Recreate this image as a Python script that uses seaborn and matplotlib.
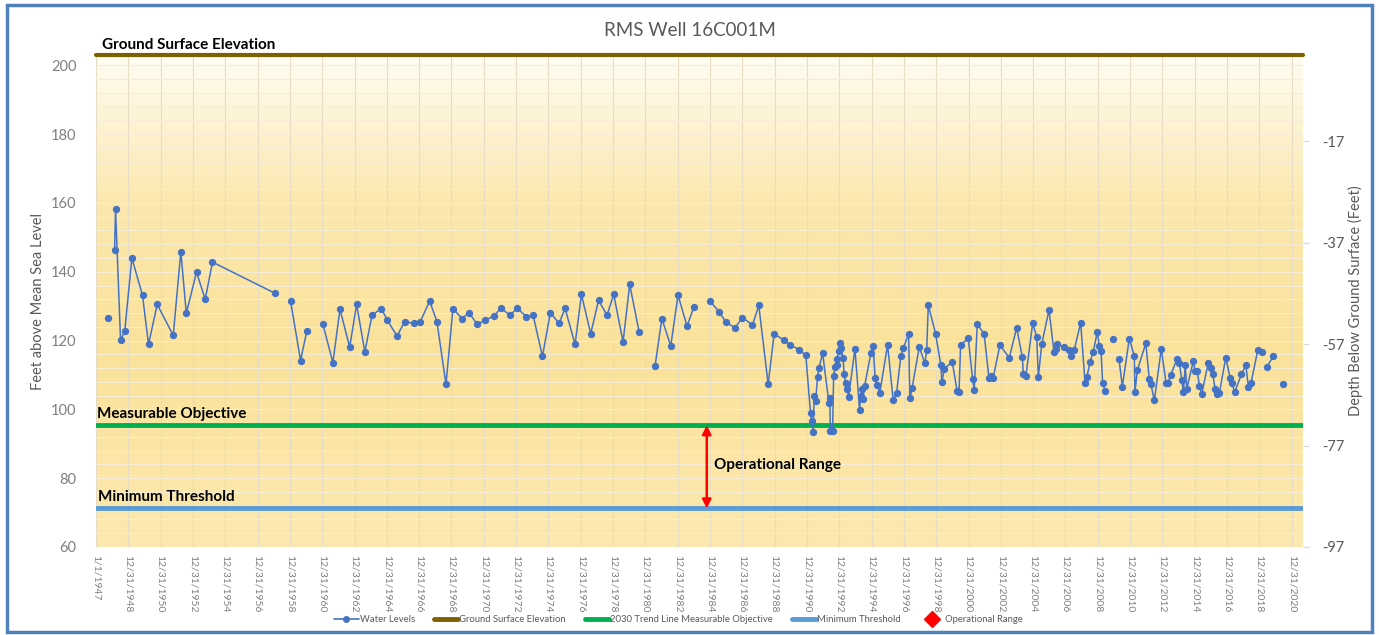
import numpy as np
import pandas as pd
import matplotlib
matplotlib.use("Agg")
import matplotlib.pyplot as plt
import seaborn as sns
from matplotlib.colors import LinearSegmentedColormap
from matplotlib.lines import Line2D
from matplotlib.patches import Rectangle
from matplotlib.ticker import MultipleLocator

# water levels (decimal year, feet above MSL); NaN marks a break in the line
water_year = [
    1947.73, np.nan,
    1948.15, 1948.21, 1948.52, 1948.78, 1949.22, 1949.88, 1950.25, 1950.79,
    1951.78, 1952.25, 1952.59, 1953.22, 1953.76, 1954.21, 1958.10, np.nan,
    1959.04, 1959.66, 1960.05, np.nan,
    1961.04, 1961.66, 1962.10, 1962.70, 1963.13, 1963.64, 1964.08, 1964.66,
    1965.03, 1965.63, 1966.10, 1966.66, 1967.07, 1967.65, 1968.10, 1968.66,
    1969.09, 1969.65, 1970.08, 1970.60, 1971.06, 1971.63, 1972.05, 1972.62,
    1973.08, 1973.64, 1974.05, 1974.63, 1975.12, 1975.66, 1976.03, 1976.65,
    1977.04, 1977.62, 1978.10, 1978.63, 1979.04, 1979.62, 1980.03, 1980.61, np.nan,
    1981.60, 1982.02, 1982.57, 1983.02, 1983.58, 1984.00, np.nan,
    1984.99, 1985.56, 1985.98, 1986.55, 1987.01, 1987.63, 1988.02, 1988.60,
    1988.97, 1989.57, 1989.98, 1990.50, 1990.93, 1991.22, 1991.30, 1991.38,
    1991.45, 1991.53, 1991.66, 1991.74, 1991.97, 1992.36, 1992.42, 1992.44,
    1992.59, 1992.65, 1992.73, 1992.83, 1992.87, 1992.96, 1993.04, 1993.10,
    1993.24, 1993.30, 1993.39, 1993.49, 1993.58, 1993.97, 1994.26, 1994.32,
    1994.40, 1994.44, 1994.57, 1994.96, 1995.10, 1995.22, 1995.35, 1995.51,
    1995.99, 1996.34, 1996.55, 1996.81, 1996.96, 1997.29, 1997.37, 1997.51,
    1997.95, 1998.30, 1998.41, 1998.51, 1998.96, 1999.29, 1999.35, 1999.50,
    1999.99, 2000.30, 2000.41, 2000.51, 2000.98, 2001.25, 2001.35, 2001.54,
    2001.97, 2002.26, 2002.37, 2002.53, 2002.94, 2003.52, 2003.98, 2004.33,
    2004.39, 2004.55, 2004.97, 2005.22, 2005.32, 2005.53, 2005.98, 2006.29,
    2006.39, 2006.49, 2006.91, 2007.22, 2007.32, 2007.54, 2007.94, 2008.21,
    2008.33, 2008.52, 2008.72, 2008.97, 2009.09, 2009.20, 2009.30, 2009.45, np.nan,
    2009.92, np.nan,
    2010.31, 2010.52, 2010.95, 2011.26, 2011.30, 2011.45, 2011.97, 2012.19,
    2012.29, 2012.50, 2012.93, 2013.22, 2013.33, 2013.51, 2013.89, 2014.05,
    2014.20, 2014.30, 2014.41, 2014.51, 2014.91, 2015.02, 2015.16, 2015.29,
    2015.43, 2015.84, 2015.99, 2016.11, 2016.26, 2016.40, 2016.52, 2016.92,
    2017.19, 2017.29, 2017.48, 2017.89, 2018.16, 2018.32, 2018.49, 2018.90,
    2019.19, np.nan,
    2019.46, 2019.87, np.nan,
    2020.49,
]
water_level = [
    126.7, np.nan,
    146.2, 158.1, 120.1, 122.8, 144.0, 133.1, 118.9, 130.5,
    121.5, 145.8, 127.9, 139.9, 132.0, 142.8, 133.7, np.nan,
    131.5, 114.2, 122.8, np.nan,
    124.8, 113.6, 129.1, 118.1, 130.5, 116.7, 127.4, 129.3,
    125.9, 121.3, 125.5, 125.0, 125.5, 131.5, 125.5, 107.3,
    129.3, 126.4, 128.1, 124.7, 125.9, 127.1, 129.4, 127.4,
    129.4, 126.9, 127.4, 115.4, 128.1, 125.0, 129.4, 118.9,
    133.4, 122.0, 131.7, 127.4, 133.4, 119.6, 136.3, 122.6, np.nan,
    112.6, 126.4, 118.4, 133.2, 124.2, 129.8, np.nan,
    131.5, 128.4, 125.4, 123.7, 126.7, 124.5, 130.2, 107.3,
    122.0, 120.1, 118.7, 117.4, 115.7, 99.0, 96.6, 93.5,
    103.9, 102.3, 109.5, 112.0, 116.3, 101.9, 103.2, 93.8,
    93.8, 109.7, 112.3, 112.8, 114.5, 116.9, 119.2, 117.9,
    114.8, 110.2, 107.8, 106.0, 103.7, 117.6, 99.7, 103.9,
    106.0, 102.9, 106.8, 116.5, 118.4, 109.0, 107.0, 104.9,
    118.7, 102.6, 104.9, 115.5, 117.7, 122.0, 103.2, 106.3,
    118.1, 113.4, 117.2, 130.3, 122.0, 112.8, 107.9, 111.8,
    113.8, 105.2, 105.0, 118.6, 120.8, 108.9, 105.6, 124.9,
    121.8, 109.2, 109.7, 109.2, 118.7, 115.0, 123.7, 115.2,
    110.2, 109.7, 125.0, 121.1, 109.4, 118.9, 128.9, 116.7,
    117.6, 118.9, 118.2, 117.2, 115.5, 117.2, 125.2, 107.8,
    109.4, 113.9, 116.7, 122.6, 118.4, 117.0, 107.8, 105.3, np.nan,
    120.6, np.nan,
    114.7, 106.6, 120.6, 115.5, 105.0, 111.4, 119.2, 108.7,
    107.3, 102.6, 117.6, 107.8, 107.6, 110.0, 114.5, 113.4,
    108.4, 105.0, 112.8, 106.0, 114.0, 111.1, 111.1, 106.8,
    104.4, 113.6, 111.9, 110.4, 106.0, 104.4, 104.7, 115.0,
    109.2, 107.6, 105.1, 110.2, 112.8, 106.6, 107.8, 117.2,
    116.7, np.nan,
    112.3, 115.5, np.nan,
    107.3,
]

ground_surface = 203.0
measurable_objective = 95.4
minimum_threshold = 71.2
op_range_year = 1984.8

x_tick_pos = [1947.0] + list(range(1949, 2022, 2))
x_tick_labels = ["1/1/1947"] + [f"12/31/{y - 1}" for y in range(1949, 2022, 2)]
right_ticks = [-97, -77, -57, -37, -17]

sns.set_style("white")
plt.rcParams["font.family"] = ["Lato", "DejaVu Sans"]
plt.rcParams["axes.unicode_minus"] = False

df = pd.DataFrame({"year": water_year, "level": water_level})
df["segment"] = df["level"].isna().cumsum()
df = df.dropna()

fig = plt.figure(figsize=(13.79, 6.35), dpi=100)
ax = fig.add_axes([96 / 1379, 1 - 547 / 635, (1303 - 96) / 1379, (547 - 55) / 635])

xmin, xmax, ymin, ymax = 1947.0, 2021.7, 60, ground_surface

# background gradient
cmap = LinearSegmentedColormap.from_list(
    "bg", [(0.0, "#FDE9B0"), (0.4, "#FBE29A"), (0.7, "#FCE8AE"), (1.0, "#FFFCF2")]
)
grad = np.linspace(0, 1, 256).reshape(-1, 1)
ax.imshow(grad, extent=[xmin, xmax, ymin, ymax], origin="lower",
          aspect="auto", cmap=cmap, zorder=0)

ax.set_xlim(xmin, xmax)
ax.set_ylim(ymin, ymax)
ax.set_xticks(x_tick_pos)
ax.set_xticklabels(x_tick_labels, rotation=-90, fontsize=7.5, color="#7f7f7f")
ax.set_yticks(range(60, 201, 20))
ax.yaxis.set_minor_locator(MultipleLocator(4))
ax.tick_params(axis="y", labelsize=10.5, labelcolor="#7f7f7f", length=0, pad=14)
ax.tick_params(axis="y", which="minor", length=0)
ax.tick_params(axis="x", length=0, pad=6)
ax.grid(True, which="major", axis="x", color="#e6dcc3", lw=0.8, zorder=1)
ax.grid(True, which="both", axis="y", color="#f5edd5", lw=0.8, zorder=1)
ax.set_axisbelow(False)
for s in ax.spines.values():
    s.set_visible(False)
ax.axhline(ymin, color="#d9d9d9", lw=0.8, zorder=1)

# reference lines
ax.axhline(ground_surface, color="#7f6000", lw=3, zorder=3, clip_on=False)
ax.axhline(measurable_objective, color="#00B050", lw=3.5, zorder=3)
ax.axhline(minimum_threshold, color="#5B9BD5", lw=3.5, zorder=3)

sns.lineplot(data=df, x="year", y="level", units="segment", estimator=None,
             color="#4472C4", lw=1.1, marker="o", markersize=4.5,
             markeredgecolor="#4472C4", ax=ax, legend=False, zorder=4, sort=False)
ax.set_xlabel("")
ax.set_ylabel("Feet above Mean Sea Level", fontsize=10.5, color="#595959", labelpad=4)

ax.annotate("", xy=(op_range_year, measurable_objective), xytext=(op_range_year, minimum_threshold),
            arrowprops=dict(arrowstyle="<|-|>", color="#FF0000", lw=1.8, mutation_scale=13,
                            shrinkA=0, shrinkB=0), zorder=5)

ax.text(1947.35, ground_surface + 0.8, "Ground Surface Elevation", fontsize=11,
        fontweight="bold", va="bottom", ha="left", color="black")
ax.text(1947.05, measurable_objective + 1.3, "Measurable Objective", fontsize=11,
        fontweight="bold", va="bottom", ha="left", color="black")
ax.text(1947.15, minimum_threshold + 1.3, "Minimum Threshold", fontsize=11,
        fontweight="bold", va="bottom", ha="left", color="black")
ax.text(op_range_year + 0.45, 83.7, "Operational Range", fontsize=11,
        fontweight="bold", va="center", ha="left", color="black")

ax2 = ax.twinx()
ax2.set_ylim(-97, 0)
ax2.set_yticks(right_ticks)
ax2.tick_params(axis="y", labelsize=10.5, labelcolor="#595959", length=4,
                color="#d9d9d9", pad=10)
for s in ax2.spines.values():
    s.set_visible(False)
ax2.set_ylabel("Depth Below Ground Surface (Feet)", fontsize=10.5, color="#595959",
               labelpad=2)
ax2.grid(False)

fig.text(0.5, 1 - 30 / 635, "RMS Well 16C001M", ha="center", va="center",
         fontsize=13.5, color="#595959")

handles = [
    Line2D([], [], color="#4472C4", lw=1.2, marker="o", markersize=4),
    Line2D([], [], color="#7f6000", lw=3.5),
    Line2D([], [], color="#00B050", lw=3.5),
    Line2D([], [], color="#5B9BD5", lw=3.5),
    Line2D([], [], color="#FF0000", lw=0, marker="D", markersize=8),
]
labels = ["Water Levels", "Ground Surface Elevation", "2030 Trend Line Measurable Objective",
          "Minimum Threshold", "Operational Range"]
fig.legend(handles, labels, loc="center", bbox_to_anchor=(0.492, 1 - 620 / 635), ncol=5,
           frameon=False, fontsize=6.8, labelcolor="#595959", handlelength=2.6,
           handletextpad=0.1, columnspacing=2.0)

fig.patches.append(Rectangle((7 / 1379, 3 / 635), 1365 / 1379, 627 / 635,
                             transform=fig.transFigure, fill=False,
                             edgecolor="#4F81BD", lw=2.5))

fig.savefig("out.png", dpi=100)
